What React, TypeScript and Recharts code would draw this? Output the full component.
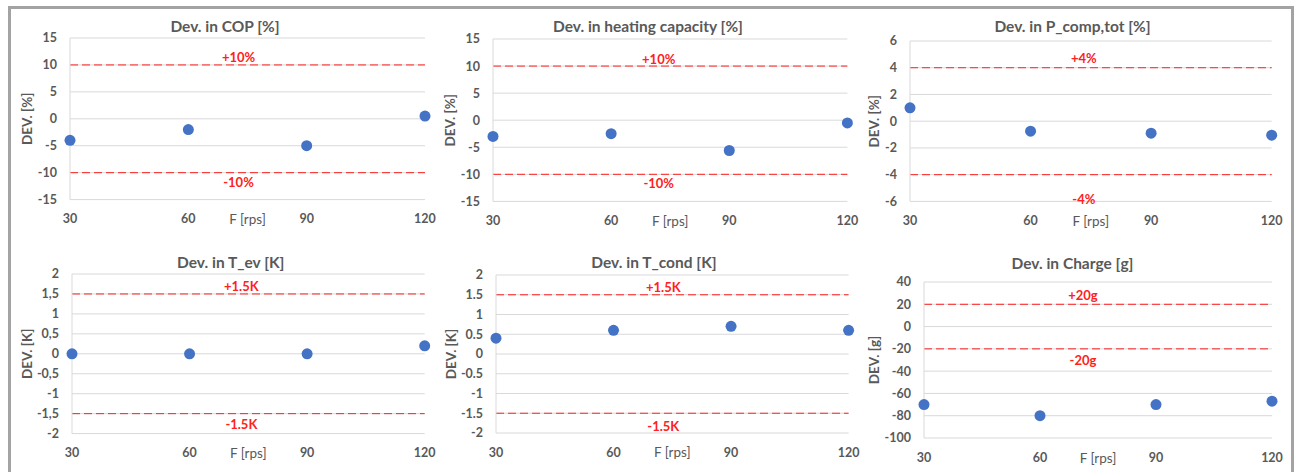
import React from "react";
import { ScatterChart, Scatter, XAxis, YAxis, CartesianGrid, ReferenceLine } from "recharts";

// compressor speed [rps]
const freqs = [30, 60, 90, 120];

// deviations
const devCop = [-4, -2, -5, 0.5];
const devHeat = [-3, -2.5, -5.6, -0.5];
const devPcomp = [1, -0.75, -0.9, -1.05];
const devTev = [0, 0, 0, 0.2];
const devTcond = [0.4, 0.6, 0.7, 0.6];
const devCharge = [-70, -80, -70, -67];

// y tick values
const pctTicks = [-15, -10, -5, 0, 5, 10, 15];
const pcompTicks = [-6, -4, -2, 0, 2, 4, 6];
const kTicks = [-2, -1.5, -1, -0.5, 0, 0.5, 1, 1.5, 2];
const chargeTicks = [-100, -80, -60, -40, -20, 0, 20, 40];

// tolerance bands
const copLimits = [10, -10];
const pcompLimits = [4, -4];
const kLimits = [1.5, -1.5];
const chargeLimits = [20, -20];

const titles = [
  "Dev. in COP [%]",
  "Dev. in heating capacity [%]",
  "Dev. in P_comp,tot [%]",
  "Dev. in T_ev [K]",
  "Dev. in T_cond [K]",
  "Dev. in Charge [g]",
];
const yLabels = ["DEV. [%]", "DEV. [%]", "DEV. [%]", "DEV. [K]", "DEV. [K]", "DEV. [g]"];

const GRAY = "#595959";
const RED = "#ff2020";
const BLUE = "#4472c4";
const FONT = "Lato, 'Open Sans', sans-serif";

const fmtLimit = (v: number, unit: string) => `${v > 0 ? "+" : ""}${v}${unit}`;
const comma = (v: number) => String(v).replace(".", ",");
const dot = (v: number) => String(v);

const panels = [
  { title: titles[0], yLabel: yLabels[0], values: devCop, ticks: pctTicks, limits: copLimits, unit: "%", fmt: dot,
    box: { l: 70, r: 425, t: 37.7, b: 199.3 }, titleX: 225, titleY: 26, ylabX: 27, dx: -9, hiDy: -7.6, loDy: 9.6 },
  { title: titles[1], yLabel: yLabels[1], values: devHeat, ticks: pctTicks, limits: copLimits, unit: "%", fmt: dot,
    box: { l: 493.3, r: 847.7, t: 39.3, b: 201.7 }, titleX: 648, titleY: 26, ylabX: 450.5, dx: -11.5, hiDy: -6.7, loDy: 8.7 },
  { title: titles[2], yLabel: yLabels[2], values: devPcomp, ticks: pcompTicks, limits: pcompLimits, unit: "%", fmt: dot,
    box: { l: 910, r: 1271.7, t: 41.3, b: 201.7 }, titleX: 1072.5, titleY: 26, ylabX: 874, dx: -7, hiDy: -10, loDy: 24 },
  { title: titles[3], yLabel: yLabels[3], values: devTev, ticks: kTicks, limits: kLimits, unit: "K", fmt: comma,
    box: { l: 72.3, r: 425, t: 273.7, b: 433.3 }, titleX: 230.8, titleY: 261.7, ylabX: 27, dx: -7, hiDy: -8.4, loDy: 10 },
  { title: titles[4], yLabel: yLabels[4], values: devTcond, ticks: kTicks, limits: kLimits, unit: "K", fmt: dot,
    box: { l: 495.7, r: 848.3, t: 275.3, b: 433.3 }, titleX: 654, titleY: 261.7, ylabX: 450.7, dx: -9, hiDy: -7.7, loDy: 12.7 },
  { title: titles[5], yLabel: yLabels[5], values: devCharge, ticks: chargeTicks, limits: chargeLimits, unit: "g", fmt: dot,
    box: { l: 924.3, r: 1272.3, t: 282, b: 438 }, titleX: 1072.5, titleY: 262.7, ylabX: 874, dx: -15, hiDy: -9, loDy: 11 },
];

const AXIS_W = 65;
const TOP_PAD = 10;
const RIGHT_PAD = 20;
const X_H = 35;

const Dot = (props: any) => <circle cx={props.cx} cy={props.cy} r={5.5} fill={BLUE} />;

const Panel = ({ p }: { p: (typeof panels)[number] }) => {
  const { l, r, t, b } = p.box;
  const left = l - AXIS_W;
  const top = t - TOP_PAD;
  const width = r - l + AXIS_W + RIGHT_PAD;
  const height = b - t + TOP_PAD + X_H;
  const data = freqs.map((f, i) => ({ f, dev: p.values[i] }));
  const lo = p.ticks[0];
  const hi = p.ticks[p.ticks.length - 1];

  const limitLabel = (v: number, dy: number) => (props: any) => {
    const vb = props.viewBox || {};
    return (
      <text
        x={vb.x + vb.width / 2 + p.dx}
        y={vb.y + dy}
        textAnchor="middle"
        dominantBaseline="central"
        fill={RED}
        fontSize={13}
        fontWeight={700}
      >
        {fmtLimit(v, p.unit)}
      </text>
    );
  };

  const yLabel = () => {
    const x = p.ylabX - left;
    const y = TOP_PAD + (b - t) / 2;
    return (
      <text
        x={x}
        y={y}
        transform={`rotate(-90, ${x}, ${y})`}
        textAnchor="middle"
        dominantBaseline="central"
        fill={GRAY}
        fontSize={13.5}
        fontWeight={700}
      >
        {p.yLabel}
      </text>
    );
  };

  return (
    <>
      <div
        style={{
          position: "absolute",
          left: p.titleX - 200,
          top: p.titleY - 11,
          width: 400,
          height: 22,
          lineHeight: "22px",
          textAlign: "center",
          fontSize: 15.5,
          fontWeight: 700,
          color: GRAY,
        }}
      >
        {p.title}
      </div>
      <div style={{ position: "absolute", left, top }}>
        <ScatterChart width={width} height={height} margin={{ top: TOP_PAD, right: RIGHT_PAD, bottom: 0, left: 0 }}>
          <CartesianGrid vertical={false} stroke="#d9d9d9" />
          <XAxis
            type="number"
            dataKey="f"
            domain={[30, 120]}
            ticks={freqs}
            height={X_H}
            axisLine={false}
            tickLine={false}
            tickSize={0}
            tickMargin={15}
            tick={{ fill: GRAY, fontSize: 12.5, fontWeight: 700 }}
            label={(props: any) => {
              const vb = props.viewBox || {};
              return (
                <text
                  x={vb.x + vb.width / 2}
                  y={vb.y + 19.5}
                  textAnchor="middle"
                  dominantBaseline="central"
                  fill={GRAY}
                  fontSize={13.5}
                >
                  F [rps]
                </text>
              );
            }}
          />
          <YAxis
            type="number"
            dataKey="dev"
            domain={[lo, hi]}
            ticks={p.ticks}
            width={AXIS_W}
            interval={0}
            axisLine={{ stroke: "#d9d9d9" }}
            tickLine={false}
            tickSize={0}
            tickMargin={13}
            tickFormatter={p.fmt}
            tick={{ fill: GRAY, fontSize: 12.5, fontWeight: 700 }}
            label={yLabel}
          />
          <ReferenceLine
            y={p.limits[0]}
            stroke={RED}
            strokeDasharray="8 4"
            label={limitLabel(p.limits[0], p.hiDy)}
          />
          <ReferenceLine
            y={p.limits[1]}
            stroke={RED}
            strokeDasharray="8 4"
            label={limitLabel(p.limits[1], p.loDy)}
          />
          <Scatter data={data} shape={Dot} isAnimationActive={false} />
        </ScatterChart>
      </div>
    </>
  );
};

export default function App() {
  return (
    <div
      style={{
        position: "absolute",
        left: 0,
        top: 0,
        width: 1300,
        height: 472,
        overflow: "hidden",
        background: "#fff",
        fontFamily: FONT,
      }}
    >
      <div
        style={{
          position: "absolute",
          left: 8,
          top: 6,
          width: 1286,
          height: 500,
          border: "3px solid #a3a3a3",
          boxSizing: "border-box",
        }}
      />
      {panels.map((p, i) => (
        <Panel key={i} p={p} />
      ))}
    </div>
  );
}
